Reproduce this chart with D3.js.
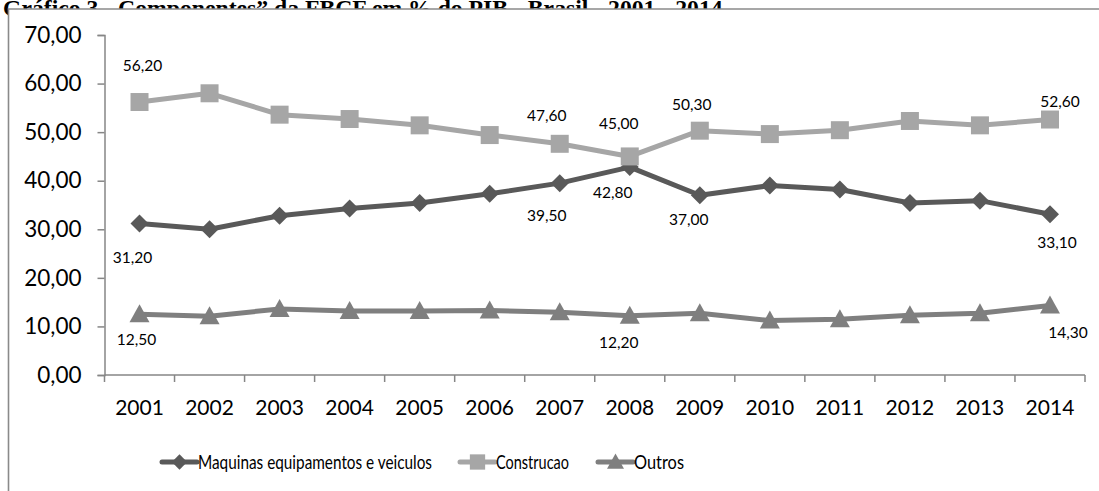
<!DOCTYPE html>
<html><head><meta charset="utf-8">
<script src="https://cdn.jsdelivr.net/npm/d3@7/dist/d3.min.js"></script>
<style>
body{margin:0;background:#fff;}
svg{display:block;}
</style></head>
<body>
<svg id="c" width="1099" height="491"></svg>
<script>
const years = ["2001","2002","2003","2004","2005","2006","2007","2008","2009","2010","2011","2012","2013","2014"];
const maquinas = [31.2,30.0,32.8,34.3,35.4,37.3,39.5,42.8,37.0,39.0,38.2,35.4,35.9,33.1];
const construcao = [56.2,58.0,53.6,52.7,51.4,49.4,47.6,45.0,50.3,49.6,50.4,52.3,51.4,52.6];
const outros = [12.5,12.1,13.6,13.2,13.2,13.3,12.9,12.2,12.7,11.2,11.5,12.3,12.7,14.3];
const yTicks = [0,10,20,30,40,50,60,70];
const seriesNames = ["Maquinas equipamentos e veiculos","Construcao","Outros"];
const titleText = "Gráfico 3 - Componentes\u201d da FBCF em % do PIB - Brasil - 2001 - 2014";

const fmt = v => v.toFixed(2).replace(".", ",");
const svg = d3.select("#c");
const W = 1099, H = 491;
const FONT = "Lato, 'Open Sans', sans-serif";

// title (clipped by chart frame)
svg.append("text").attr("x", 3).attr("y", 16)
  .attr("font-family", "'Liberation Serif', 'Times New Roman', serif")
  .attr("font-weight", "bold").attr("font-size", 23.7)
  .attr("fill", "#000").text(titleText);
svg.append("rect").attr("x", 8).attr("y", 9).attr("width", W).attr("height", H).attr("fill", "#fff");
svg.append("path").attr("d", `M8.5,${H} V9 H${W}`).attr("fill", "none")
  .attr("stroke", "#8a8a8a").attr("stroke-width", 1.6);

const x = d3.scaleBand().domain(years).range([104.5, 1085]);
const y = d3.scaleLinear().domain([0, 70]).range([375, 35]);
const cx = d => x(d) + x.bandwidth() / 2;

// y axis
const yAxis = svg.append("g").attr("transform", "translate(104.5,0)")
  .call(d3.axisLeft(y).tickValues(yTicks).tickFormat(fmt).tickSize(7).tickPadding(16));
yAxis.select(".domain").attr("stroke", "#868686").attr("stroke-width", 1.5);
yAxis.selectAll(".tick line").attr("stroke", "#868686").attr("stroke-width", 1.5);
yAxis.selectAll("text").attr("font-family", FONT).attr("font-size", 22.5).attr("fill", "#000");

// x axis with ticks at category boundaries
const xAxisG = svg.append("g").attr("transform", "translate(0,375)");
xAxisG.append("line").attr("x1", 104.5).attr("x2", 1085).attr("stroke", "#868686").attr("stroke-width", 1.5);
const bounds = years.map(d => x(d)).concat([x(years[years.length - 1]) + x.bandwidth()]);
xAxisG.selectAll("line.tk").data(bounds).enter().append("line").attr("class", "tk")
  .attr("x1", d => d).attr("x2", d => d).attr("y1", 0).attr("y2", 7)
  .attr("stroke", "#868686").attr("stroke-width", 1.5);
xAxisG.selectAll("text").data(years).enter().append("text")
  .attr("x", d => cx(d)).attr("y", 40).attr("text-anchor", "middle")
  .attr("font-family", FONT).attr("font-size", 21).attr("fill", "#000").text(d => d);

const series = [
  {name: seriesNames[0], vals: maquinas, color: "#595959", shape: "diamond"},
  {name: seriesNames[1], vals: construcao, color: "#a6a6a6", shape: "square"},
  {name: seriesNames[2], vals: outros, color: "#7f7f7f", shape: "triangle"}
];
const symbolPath = (shape) => {
  if (shape === "square") return "M-9,-9H9V9H-9Z";
  if (shape === "diamond") return "M0,-9L9,0L0,9L-9,0Z";
  return "M0,-10L10,8H-10Z";
};
const line = d3.line().x((d, i) => cx(years[i])).y(d => y(d));

// draw order: outros, maquinas, construcao
[series[2], series[0], series[1]].forEach(s => {
  svg.append("path").datum(s.vals).attr("d", line).attr("fill", "none")
    .attr("stroke", s.color).attr("stroke-width", 5).attr("stroke-linejoin", "round");
  svg.selectAll(null).data(s.vals).enter().append("path")
    .attr("transform", (d, i) => `translate(${cx(years[i])},${y(d)})`)
    .attr("d", symbolPath(s.shape)).attr("fill", s.color);
});

// data labels: [series index, year index, dx, dy]
const labelSpec = [
  [1, 0, 3, -36], [1, 6, -13, -28], [1, 7, -11, -33], [1, 8, -8, -26], [1, 13, 10, -18],
  [0, 0, -7, 34], [0, 6, -13, 32], [0, 7, -17, 25], [0, 8, -11, 24], [0, 13, 7, 28],
  [2, 0, -3, 25], [2, 7, -11, 27], [2, 13, 18, 27]
];
svg.selectAll("text.lbl").data(labelSpec).enter().append("text").attr("class", "lbl")
  .attr("x", d => cx(years[d[1]]) + d[2])
  .attr("y", d => y(series[d[0]].vals[d[1]]) + d[3])
  .attr("dy", "0.35em").attr("text-anchor", "middle")
  .attr("font-family", FONT).attr("font-size", 15.5).attr("fill", "#000")
  .text(d => fmt(series[d[0]].vals[d[1]]));

// legend
const legendItems = [
  {s: series[0], x0: 162, tw: 234},
  {s: series[1], x0: 460, tw: 73},
  {s: series[2], x0: 598, tw: 50}
];
const lg = svg.append("g").attr("transform", "translate(0,462)");
legendItems.forEach(it => {
  lg.append("line").attr("x1", it.x0).attr("x2", it.x0 + 35).attr("stroke", it.s.color)
    .attr("stroke-width", 5).attr("stroke-linecap", "round");
  lg.append("path").attr("transform", `translate(${it.x0 + 17.5},0) scale(0.85)`)
    .attr("d", symbolPath(it.s.shape)).attr("fill", it.s.color);
  lg.append("text").attr("x", it.x0 + 36).attr("y", 0).attr("dy", "0.35em")
    .attr("textLength", it.tw).attr("lengthAdjust", "spacingAndGlyphs")
    .attr("font-family", FONT).attr("font-size", 20).attr("fill", "#000").text(it.s.name);
});
</script>
</body></html>
